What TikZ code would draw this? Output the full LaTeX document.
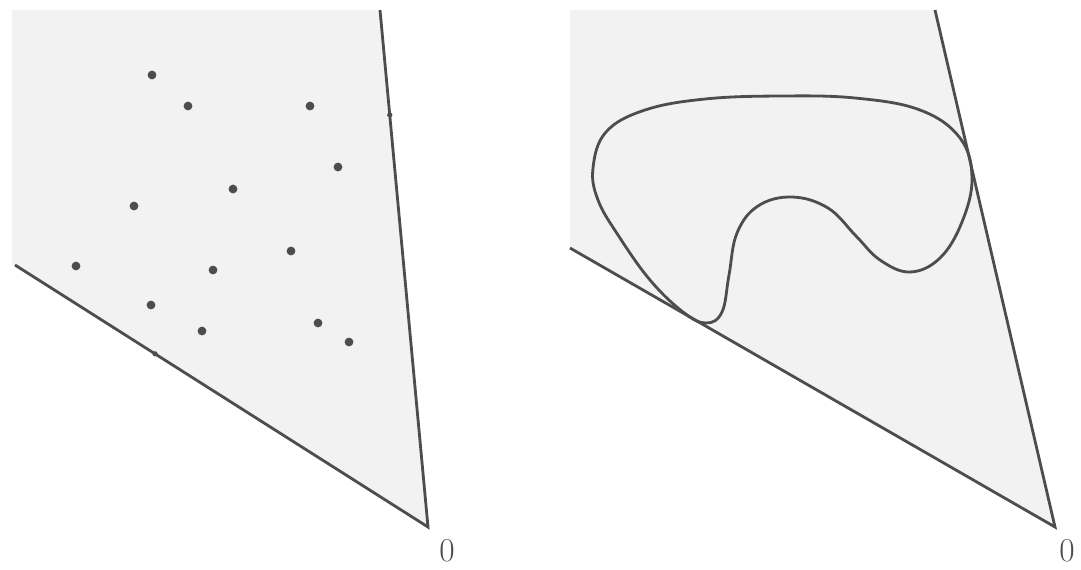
\documentclass[tikz,border=0pt]{standalone}
\usetikzlibrary{calc}
\definecolor{conegray}{HTML}{F2F2F2}
\definecolor{inkgray}{HTML}{4D4D4D}
\tikzset{
  edge/.style={draw=inkgray, line width=1.6pt},
  dot/.style={circle, fill=inkgray, inner sep=0pt, minimum size=5pt},
  vertexlabel/.style={font=\fontsize{19}{21}\selectfont, text=inkgray, inner sep=0pt}
}
\begin{document}
\begin{tikzpicture}[x=0.02cm, y=-0.02cm]
  \useasboundingbox (0,0) rectangle (1081,569);

  % Hình trái: nón với tập điểm rời rạc
  \coordinate (O1) at (428,527);
  \coordinate (A1) at (15,265);
  \coordinate (B1) at (380,10);
  \fill[conegray] (12,10) -- (B1) -- (O1) -- (A1) -- (12,265) -- cycle;
  \draw[edge] (A1) -- (O1) -- (B1);
  \node[vertexlabel] (L1) at (447,551) {0};

  % Các điểm bên trong
  \foreach \x/\y [count=\i] in {152/75, 188/106, 310/106, 338/167, 233/189, 134/206,
      291/251, 76/266, 213/270, 151/305, 202/331, 318/323, 349/342}
    \node[dot] (p\i) at (\x,\y) {};
  % Hai điểm nằm trên biên
  \node[dot, minimum size=3pt] (q1) at ($(B1)!0.203!(O1)$) {};
  \node[dot, minimum size=3pt] (q2) at ($(A1)!0.339!(O1)$) {};

  % Hình phải: nón với đường cong kín
  \coordinate (O2) at (1055,527);
  \coordinate (A2) at (570,248);
  \coordinate (B2) at (935,10);
  \fill[conegray] (570,10) -- (B2) -- (O2) -- (A2) -- cycle;
  \draw[edge] (A2) -- (O2) -- (B2);
  \node[vertexlabel] (L2) at (1067,551) {0};

  % Đường cong kín tiếp xúc hai cạnh
  \draw[edge] plot[smooth cycle, tension=0.65] coordinates {
      (593,168) (606,132) (645,110) (705,99) (780,96) (855,98) (920,110)
      (960,138) (972,178) (962,222) (940,258) (910,272) (880,260) (856,236)
      (828,208) (792,197) (758,206) (737,233) (729,275) (722,312) (706,323)
      (683,312) (650,280) (618,235) (598,200)};
\end{tikzpicture}
\end{document}
